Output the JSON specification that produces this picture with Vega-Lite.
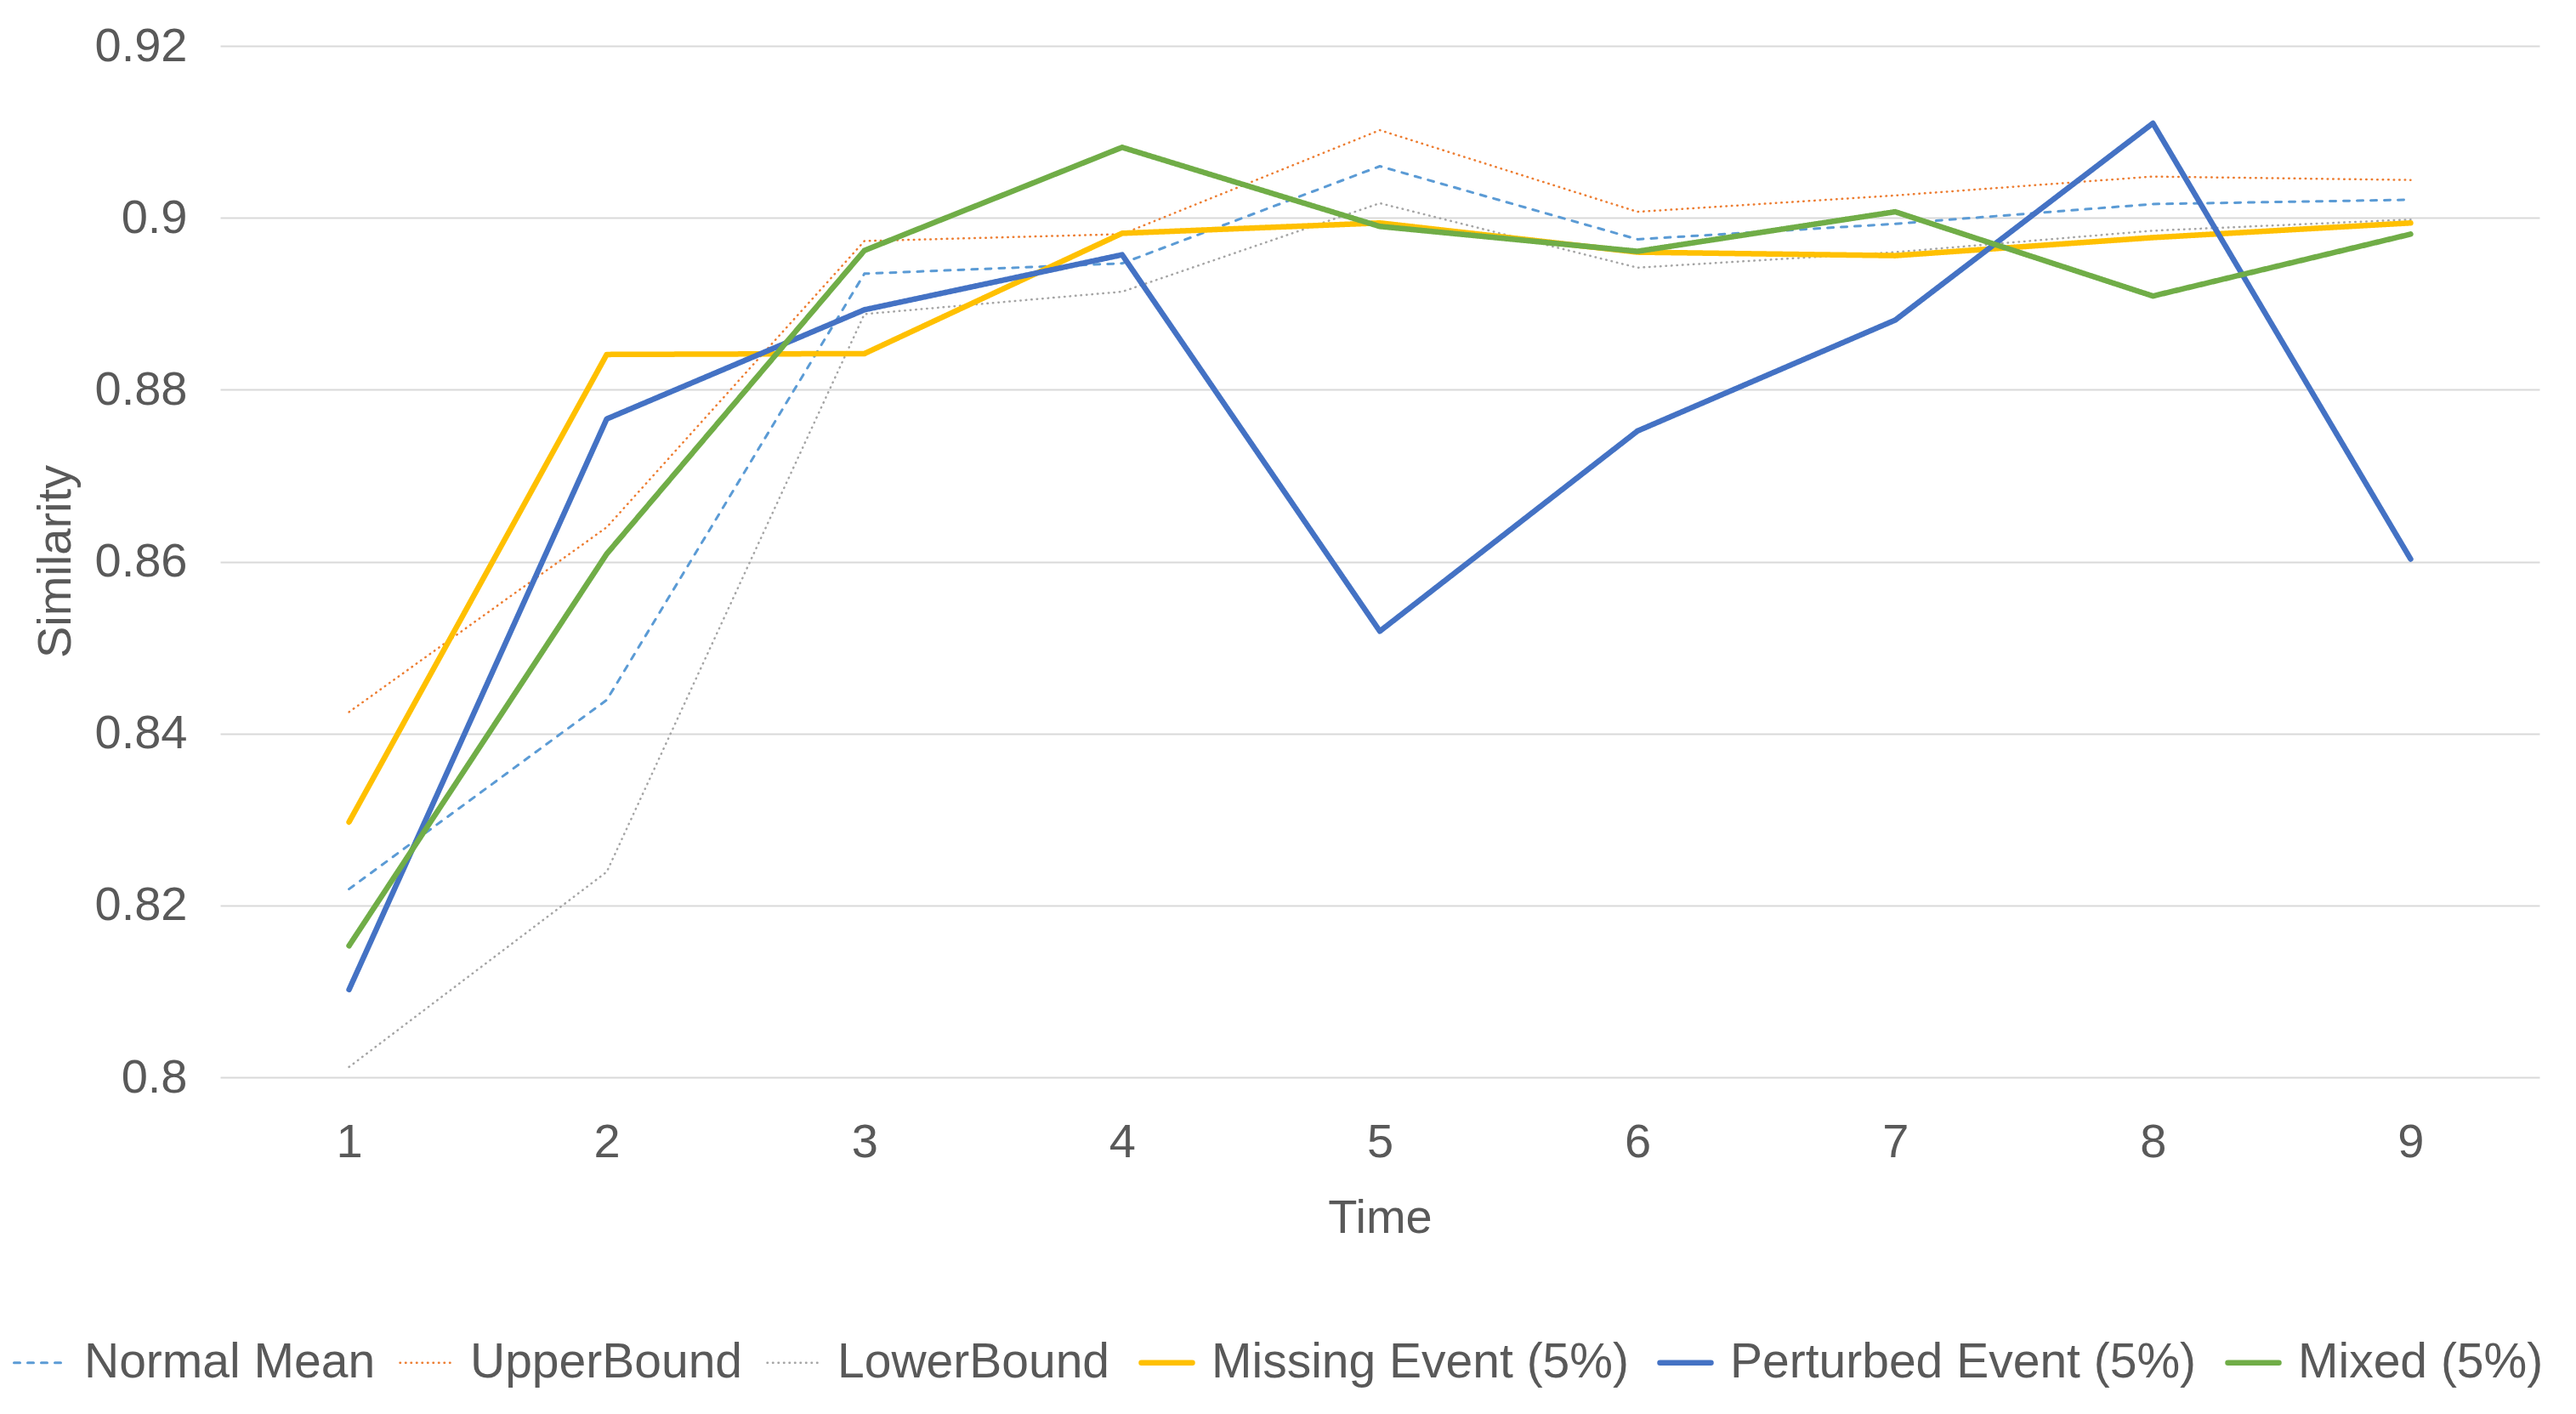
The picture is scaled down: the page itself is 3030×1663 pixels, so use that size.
{
  "$schema": "https://vega.github.io/schema/vega-lite/v6.json",
  "autosize": "none",
  "width": 2728,
  "height": 1213,
  "padding": {"left": 259, "top": 54, "right": 43, "bottom": 396},
  "background": "white",
  "config": {
    "view": {"stroke": null},
    "font": "Liberation Sans",
    "axis": {"labelFont": "Liberation Sans", "titleFont": "Liberation Sans", "labelColor": "#595959", "titleColor": "#595959", "labelFontSize": 56, "titleFontSize": 56, "titleFontWeight": "normal"},
    "legend": {"labelFont": "Liberation Sans", "labelColor": "#595959", "labelFontSize": 57, "labelLimit": 0}
  },
  "data": {
    "values": [
      {"t": 1, "series": "Normal Mean", "v": 0.8219},
      {"t": 2, "series": "Normal Mean", "v": 0.8439},
      {"t": 3, "series": "Normal Mean", "v": 0.8935},
      {"t": 4, "series": "Normal Mean", "v": 0.8947},
      {"t": 5, "series": "Normal Mean", "v": 0.9060},
      {"t": 6, "series": "Normal Mean", "v": 0.8975},
      {"t": 7, "series": "Normal Mean", "v": 0.8993},
      {"t": 8, "series": "Normal Mean", "v": 0.9016},
      {"t": 9, "series": "Normal Mean", "v": 0.9021},
      {"t": 1, "series": "UpperBound", "v": 0.8425},
      {"t": 2, "series": "UpperBound", "v": 0.8640},
      {"t": 3, "series": "UpperBound", "v": 0.8973},
      {"t": 4, "series": "UpperBound", "v": 0.8981},
      {"t": 5, "series": "UpperBound", "v": 0.9102},
      {"t": 6, "series": "UpperBound", "v": 0.9007},
      {"t": 7, "series": "UpperBound", "v": 0.9026},
      {"t": 8, "series": "UpperBound", "v": 0.9048},
      {"t": 9, "series": "UpperBound", "v": 0.9044},
      {"t": 1, "series": "LowerBound", "v": 0.8012},
      {"t": 2, "series": "LowerBound", "v": 0.8239},
      {"t": 3, "series": "LowerBound", "v": 0.8888},
      {"t": 4, "series": "LowerBound", "v": 0.8914},
      {"t": 5, "series": "LowerBound", "v": 0.9017},
      {"t": 6, "series": "LowerBound", "v": 0.8942},
      {"t": 7, "series": "LowerBound", "v": 0.8960},
      {"t": 8, "series": "LowerBound", "v": 0.8985},
      {"t": 9, "series": "LowerBound", "v": 0.8998},
      {"t": 1, "series": "Missing Event (5%)", "v": 0.8297},
      {"t": 2, "series": "Missing Event (5%)", "v": 0.8841},
      {"t": 3, "series": "Missing Event (5%)", "v": 0.8842},
      {"t": 4, "series": "Missing Event (5%)", "v": 0.8982},
      {"t": 5, "series": "Missing Event (5%)", "v": 0.8994},
      {"t": 6, "series": "Missing Event (5%)", "v": 0.8960},
      {"t": 7, "series": "Missing Event (5%)", "v": 0.8956},
      {"t": 8, "series": "Missing Event (5%)", "v": 0.8977},
      {"t": 9, "series": "Missing Event (5%)", "v": 0.8994},
      {"t": 1, "series": "Perturbed Event (5%)", "v": 0.8102},
      {"t": 2, "series": "Perturbed Event (5%)", "v": 0.8766},
      {"t": 3, "series": "Perturbed Event (5%)", "v": 0.8893},
      {"t": 4, "series": "Perturbed Event (5%)", "v": 0.8957},
      {"t": 5, "series": "Perturbed Event (5%)", "v": 0.8519},
      {"t": 6, "series": "Perturbed Event (5%)", "v": 0.8752},
      {"t": 7, "series": "Perturbed Event (5%)", "v": 0.8881},
      {"t": 8, "series": "Perturbed Event (5%)", "v": 0.9110},
      {"t": 9, "series": "Perturbed Event (5%)", "v": 0.8603},
      {"t": 1, "series": "Mixed (5%)", "v": 0.8153},
      {"t": 2, "series": "Mixed (5%)", "v": 0.8609},
      {"t": 3, "series": "Mixed (5%)", "v": 0.8962},
      {"t": 4, "series": "Mixed (5%)", "v": 0.9082},
      {"t": 5, "series": "Mixed (5%)", "v": 0.8990},
      {"t": 6, "series": "Mixed (5%)", "v": 0.8961},
      {"t": 7, "series": "Mixed (5%)", "v": 0.9007},
      {"t": 8, "series": "Mixed (5%)", "v": 0.8909},
      {"t": 9, "series": "Mixed (5%)", "v": 0.8981}
    ]
  },
  "mark": {"type": "line", "strokeCap": "round", "strokeJoin": "round"},
  "encoding": {
    "x": {
      "field": "t", "type": "ordinal", "title": "Time",
      "scale": {"type": "point", "padding": 0.5},
      "axis": {"labelAngle": 0, "ticks": false, "domain": false, "grid": false, "labelPadding": 49, "titleBaseline": "alphabetic", "titleY": 182}
    },
    "y": {
      "field": "v", "type": "quantitative", "title": "Similarity",
      "scale": {"domain": [0.8, 0.92], "nice": false, "zero": false},
      "axis": {"values": [0.8, 0.82, 0.84, 0.86, 0.88, 0.9, 0.92], "format": "~g", "ticks": false, "domain": false, "grid": true, "gridColor": "#D9D9D9", "gridWidth": 2, "labelPadding": 39, "titleBaseline": "alphabetic", "titleAngle": -90, "titleX": -177, "titleY": 606, "titleAlign": "center"}
    },
    "color": {
      "field": "series", "type": "nominal", "sort": null,
      "scale": {
        "domain": ["Normal Mean", "UpperBound", "LowerBound", "Missing Event (5%)", "Perturbed Event (5%)", "Mixed (5%)"],
        "range": ["#5B9BD5", "#ED7D31", "#A5A5A5", "#FFC000", "#4472C4", "#70AD47"]
      },
      "legend": {
        "title": null, "orient": "none", "direction": "horizontal", "legendX": -241, "legendY": 1520,
        "symbolType": "stroke", "symbolSize": 3600, "labelOffset": 24, "columnPadding": 23, "padding": 0, "labelLimit": 0,
        "encode": {
          "symbols": {
            "update": {
              "strokeWidth": {"signal": "indexof(['Missing Event (5%)','Perturbed Event (5%)','Mixed (5%)'], datum.value) >= 0 ? 6.5 : (datum.value === 'Normal Mean' ? 3 : 2.5)"},
              "strokeCap": {"value": "round"}
            }
          }
        }
      }
    },
    "strokeDash": {
      "field": "series", "type": "nominal", "sort": null,
      "scale": {
        "domain": ["Normal Mean", "UpperBound", "LowerBound", "Missing Event (5%)", "Perturbed Event (5%)", "Mixed (5%)"],
        "range": [[7, 9], [0.5, 6], [0.5, 6], [1, 0], [1, 0], [1, 0]]
      },
      "legend": {
        "title": null, "orient": "none", "direction": "horizontal", "legendX": -241, "legendY": 1520,
        "symbolType": "stroke", "symbolSize": 3600, "labelOffset": 24, "columnPadding": 23, "padding": 0, "labelLimit": 0
      }
    },
    "strokeWidth": {
      "condition": [
        {"test": "datum.series === 'Normal Mean'", "value": 3},
        {"test": "datum.series === 'UpperBound' || datum.series === 'LowerBound'", "value": 2.5}
      ],
      "value": 6.5
    }
  }
}
